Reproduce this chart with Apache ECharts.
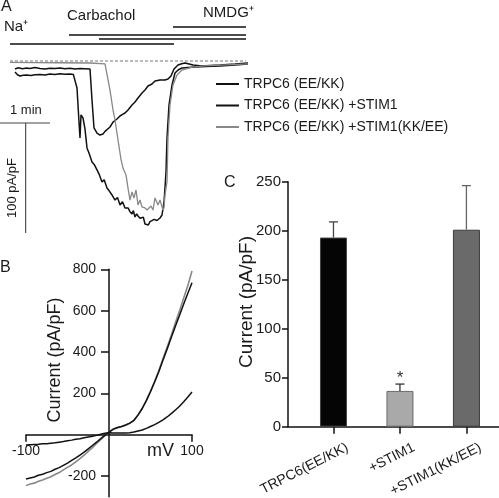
<!DOCTYPE html>
<html><head><meta charset="utf-8">
<script src="https://cdn.jsdelivr.net/npm/echarts@6/dist/echarts.min.js"></script>
<style>html,body{margin:0;padding:0;background:#fff}#c{width:499px;height:498px}</style>
</head><body><div id="c"></div>
<script>
// ---------- Panel A: current traces (time s, current pA/pF) ----------
const traceNames = ['TRPC6 (EE/KK)', 'TRPC6 (EE/KK) +STIM1', 'TRPC6 (EE/KK) +STIM1(KK/EE)'];
const traceEEKK = [[6,-10],[9,-12.5],[12,-13.6],[16,-13],[20,-12.7],[25,-13.2],[30,-12.5],[36,-12.2],[42,-12.8],[48,-11.8],[54,-12.3],[60,-11.5],[66,-12],[72,-11.8],[76,-12.2],[78,-12.7],[80.4,-24.5],[82.8,-55.5],[84,-70],[85.2,-49],[87.6,-51.8],[90,-62],[92.4,-79],[95,-84],[98.4,-91.8],[101,-94],[104.4,-99],[107,-103],[110.4,-110],[113,-108],[116.4,-115.5],[119,-118],[122.4,-121.8],[126,-126.4],[129,-124],[132,-130.9],[135,-128],[138,-133.6],[141.6,-133.6],[144,-137],[146.4,-139],[148,-136],[150,-141.8],[152,-139],[153.6,-140.9],[156,-143],[158.4,-144.5],[160,-142],[162,-148.2],[164.4,-147.3],[166,-149],[168,-146],[170.4,-146.4],[173,-144],[176.4,-145],[180,-142.7],[182.4,-140],[184.8,-128.2],[186,-115],[187.2,-100.9],[188.4,-70],[190.8,-40],[194.4,-21.8],[198,-10.9],[202,-8],[206.4,-6.4],[214,-5.8],[222,-5.5],[236,-5],[252,-4.5],[270,-3.6],[285.6,-2.7]];
const traceSTIM1 = [[6,-7.3],[10,-6.2],[15,-7],[20,-6.4],[24,-6.8],[30,-6],[36,-6.9],[42,-7.3],[48,-6.5],[54,-6.8],[60,-6.4],[66,-7],[72,-6.6],[78,-7.3],[84,-6.8],[90,-7],[96,-7.3],[98.4,-35.5],[100.8,-60.9],[104.4,-65.5],[108,-67.3],[111.6,-66.4],[114,-64],[116.4,-64.5],[120,-60],[123.6,-55.5],[126,-55],[128.4,-52.7],[132,-50],[135,-48.5],[138,-47.3],[141.6,-44.5],[144,-43],[146.4,-40],[150,-37.3],[153.6,-33.6],[156,-33],[158.4,-29.1],[162,-26.4],[165.6,-22.7],[168,-22],[170.4,-20.9],[174,-18.2],[180,-17.3],[186,-17.3],[189.6,-16.4],[193.2,-13.6],[196.8,-7.3],[201.6,-3.6],[206,-2.5],[210,-1.8],[215,-2.7],[219.6,-3.6],[230.4,-4.5],[240,-4],[252,-3.6],[270,-2.7],[285.6,-1.8]];
const traceKKEE = [[0,-1.2],[30,-1.5],[60,-1.6],[96,-1.8],[114,-2.7],[116.4,-4.5],[120,-26.4],[123.6,-44.5],[126,-53.6],[129.6,-71.8],[133.2,-89.5],[135.6,-97.3],[139.2,-103.6],[141.6,-115.5],[144,-126.4],[146.4,-119.1],[148.8,-124.5],[151.2,-117.3],[153.6,-130.9],[156,-126.4],[158.4,-132.7],[162,-133.6],[164.4,-135.5],[166.8,-137.3],[169.2,-131.8],[171.6,-135.5],[174,-124.5],[175.2,-122.7],[177.6,-130.9],[180,-126.4],[182.4,-128.2],[183.6,-135.5],[184.8,-133.6],[186,-121.8],[188.4,-110],[189.6,-70],[192,-40],[195.6,-21.8],[200.4,-12.7],[206.4,-8.2],[218.4,-5.5],[234,-4.5],[260,-3.5],[285.6,-2.7]];
const baselineSpan = [0, 283];
const solutionLabels = ['Na⁺', 'Carbachol', 'Carbachol', 'NMDG⁺'];
const solutionStart = [0, 70.8, 106.8, 195.6];
const solutionEnd = [196.8, 283.2, 283.2, 283.2];
const solutionLevel = [15.5, 23.6, 20, 30.9];
const scaleTime = 60;      // 1 min
const scaleCurrent = 100;  // 100 pA/pF

// ---------- Panel B: I-V curves ----------
const ivVoltage = [-100,-95,-90,-85,-80,-75,-70,-65,-60,-55,-50,-45,-40,-35,-30,-25,-20,-15,-10,-5,0,5,10,15,20,25,30,35,40,45,50,55,60,65,70,75,80,85,90,95,100];
const ivEEKK  = [-214,-209,-204,-196,-191,-183,-177,-167,-159,-148,-137,-124,-112,-98,-84,-68,-52,-36,-19,-3,13,27,35,40,47,56,70,96,127,165,208,255,305,360,414,470,525,578,632,684,735];
const ivSTIM1 = [-50,-48,-47,-46,-44,-43,-41,-39,-36,-33,-29,-26,-22,-19,-15,-11,-7,-3,2,7,10,9,8,8,8,10,13,18,23,31,40,49,60,72,86,102,120,138,160,183,207];
const ivKKEE  = [-246,-238,-234,-225,-219,-210,-203,-192,-183,-170,-158,-146,-131,-115,-99,-80,-62,-42,-24,-5,13,25,33,39,46,55,68,95,127,166,211,259,311,367,423,481,541,600,661,722,792];
const ivYTicks = [-200, 200, 400, 600, 800];
const ivXTicks = [-100, 100];

// ---------- Panel C: bar chart ----------
const barCategories = ['TRPC6(EE/KK)', '+STIM1', '+STIM1(KK/EE)'];
const barMeans = [193, 36.5, 201];
const barErrors = [16, 7, 45];
const barSignificance = ['', '*', ''];

// ---------- styles ----------
const FONT = '"Liberation Sans", Arial, Helvetica, sans-serif';
const TXT = '#1a1a1a';
const GRAY = '#888888';
const traceColors = ['#111111', '#111111', GRAY];
const barFill = ['#050505', '#a9a9a9', '#6a6a6a'];
const barBorder = ['#444444', '#6a6a6a', '#3a3a3a'];
const errColors = ['#444444', '#333333', '#666666'];

function txt(x, y, text, size, opt) {
  opt = opt || {};
  return {
    type: 'text', x: x, y: y, rotation: opt.rot || 0, silent: true,
    style: {
      text: text, font: size + 'px ' + FONT, fill: opt.fill || TXT,
      textAlign: opt.align || 'left', textVerticalAlign: 'middle',
      align: opt.align || 'left', verticalAlign: 'middle'
    }
  };
}

const lineSeries = (name, data, color, width, grid, extra) => Object.assign({
  name: name, type: 'line', data: data, xAxisIndex: grid, yAxisIndex: grid,
  showSymbol: false, symbol: 'none', color: color,
  lineStyle: { color: color, width: width }, silent: true, z: 3
}, extra || {});

const series = [];
// Panel A traces
series.push(lineSeries(traceNames[0], traceEEKK, traceColors[0], 1.5, 0));
series.push(lineSeries(traceNames[1], traceSTIM1, traceColors[1], 1.5, 0));
series.push(lineSeries(traceNames[2], traceKKEE, traceColors[2], 1.3, 0));
series.push(lineSeries('baseline', [[baselineSpan[0], 0], [baselineSpan[1], 0]], '#777777', 1, 0,
  { lineStyle: { color: '#777777', width: 1, type: [3, 2] }, z: 2 }));
solutionLabels.forEach((lab, i) => {
  series.push(lineSeries('sol' + i, [[solutionStart[i], solutionLevel[i]], [solutionEnd[i], solutionLevel[i]]], '#111111', 1.6, 0));
});
// scale bars (1 min, 100 pA/pF)
const sbX = -12, sbY = -56.4, sbV = 18.8;
series.push(lineSeries('scaleT', [[sbX, sbY], [sbX + scaleTime, sbY]], '#444444', 1.1, 0));
series.push(lineSeries('scaleI', [[sbV, sbY], [sbV, sbY - scaleCurrent]], '#444444', 1.1, 0));

// Panel B
const ivPairs = arr => ivVoltage.map((v, i) => [v, arr[i]]);
series.push(lineSeries('IV KK/EE', ivPairs(ivKKEE), GRAY, 1.6, 1));
series.push(lineSeries('IV EE/KK', ivPairs(ivEEKK), '#111111', 1.5, 1));
series.push(lineSeries('IV STIM1', ivPairs(ivSTIM1), '#111111', 1.5, 1));

// Panel C
series.push({
  name: 'bars', type: 'bar', xAxisIndex: 2, yAxisIndex: 2, barWidth: 27, silent: true,
  data: barMeans.map((m, i) => ({ value: [i, m], itemStyle: { color: barFill[i], borderColor: barBorder[i], borderWidth: 1 } }))
});
series.push({
  name: 'errors', type: 'custom', xAxisIndex: 2, yAxisIndex: 2, silent: true, z: 4,
  encode: { x: 0, y: [1, 2] },
  data: barMeans.map((m, i) => [i, m, m + barErrors[i]]),
  renderItem: function (params, api) {
    const i = params.dataIndex;
    const p0 = api.coord([api.value(0), api.value(1)]);
    const p1 = api.coord([api.value(0), api.value(2)]);
    const st = { stroke: errColors[i], lineWidth: 1.3 };
    const ch = [
      { type: 'line', shape: { x1: p0[0], y1: p0[1], x2: p1[0], y2: p1[1] }, style: st },
      { type: 'line', shape: { x1: p1[0] - 4.5, y1: p1[1], x2: p1[0] + 4.5, y2: p1[1] }, style: st }
    ];
    if (barSignificance[i]) {
      ch.push({ type: 'text', x: p1[0], y: p1[1] - 6, style: { text: barSignificance[i], font: '17px ' + FONT, fill: '#333', align: 'center', verticalAlign: 'middle', textAlign: 'center', textVerticalAlign: 'middle' } });
    }
    return { type: 'group', children: ch };
  }
});

const axisLineBlack = { show: true, onZero: false, lineStyle: { color: '#111111', width: 1.5 } };
const labelOffset = 0.21;

// panel B geometry: axes cross at (0 mV, 0 pA/pF)
const gB = { left: 26, top: 269.3, width: 166, height: 227.5 };
const bXmin = -100, bXmax = 100, bYmin = -300, bYmax = 800;
const bYAxisOffset = -gB.width * (0 - bXmin) / (bXmax - bXmin);
const bXAxisOffset = -gB.height * (0 - bYmin) / (bYmax - bYmin);

const option = {
  animation: false,
  backgroundColor: '#ffffff',
  textStyle: { fontFamily: FONT },
  grid: [
    { left: 0, top: 17, width: 250, height: 220, outerBoundsMode: 'none', containLabel: false },
    Object.assign({ outerBoundsMode: 'none', containLabel: false }, gB),
    { left: 288, top: 181.7, width: 211, height: 245, outerBoundsMode: 'none', containLabel: false }
  ],
  xAxis: [
    { gridIndex: 0, type: 'value', min: -12, max: 288, show: false },
    { gridIndex: 1, type: 'value', min: bXmin, max: bXmax, position: 'bottom', offset: bXAxisOffset,
      axisLine: axisLineBlack,
      axisTick: { show: true, length: 7, customValues: ivXTicks, lineStyle: { color: '#111', width: 1.5 } },
      axisLabel: { customValues: ivXTicks, fontSize: 14, color: TXT, margin: 9, fontFamily: FONT },
      splitLine: { show: false } },
    { gridIndex: 2, type: 'value', min: -0.684, max: 2.49,
      axisLine: axisLineBlack,
      axisTick: { show: true, length: 7, customValues: [0, 1, 2], lineStyle: { color: '#111', width: 1.5 } },
      axisLabel: { customValues: barCategories.map((c, i) => i + labelOffset), rotate: 27, fontSize: 14, color: TXT, margin: 20, fontFamily: FONT,
        formatter: v => barCategories[Math.round(v - labelOffset)] || '' },
      splitLine: { show: false } }
  ],
  yAxis: [
    { gridIndex: 0, type: 'value', min: -160, max: 40, show: false },
    { gridIndex: 1, type: 'value', min: bYmin, max: bYmax, position: 'left', offset: bYAxisOffset,
      axisLine: axisLineBlack,
      axisTick: { show: true, length: 8, customValues: ivYTicks, lineStyle: { color: '#111', width: 1.5 } },
      axisLabel: { customValues: ivYTicks, fontSize: 14, color: TXT, margin: 13, fontFamily: FONT },
      splitLine: { show: false } },
    { gridIndex: 2, type: 'value', min: 0, max: 250, interval: 50,
      axisLine: axisLineBlack,
      axisTick: { show: true, length: 6, lineStyle: { color: '#111', width: 1.5 } },
      axisLabel: { fontSize: 15, color: TXT, margin: 7, fontFamily: FONT },
      splitLine: { show: false } }
  ],
  legend: {
    data: traceNames, orient: 'vertical', left: 216, top: 77, padding: 0,
    icon: 'rect', itemWidth: 23, itemHeight: 2, itemGap: 7.5,
    textStyle: { fontSize: 14, color: TXT, lineHeight: 14, fontFamily: FONT },
    selectedMode: false
  },
  graphic: [
    txt(1, 7, 'A', 16),
    txt(4, 27, solutionLabels[0], 15),
    txt(67, 16, solutionLabels[1], 15),
    txt(203, 13, solutionLabels[3], 15),
    txt(10, 110, '1 min', 13),
    txt(12, 188, '100 pA/pF', 13, { rot: Math.PI / 2, align: 'center' }),
    txt(0, 268, 'B', 16),
    txt(55, 360, 'Current (pA/pF)', 18, { rot: Math.PI / 2, align: 'center' }),
    txt(147, 451, 'mV', 18),
    txt(224, 183, 'C', 16),
    txt(247, 302, 'Current (pA/pF)', 19, { rot: Math.PI / 2, align: 'center' })
  ],
  series: series
};

const chart = echarts.init(document.getElementById('c'), null, { renderer: 'canvas' });
chart.setOption(option);
</script>
</body></html>
